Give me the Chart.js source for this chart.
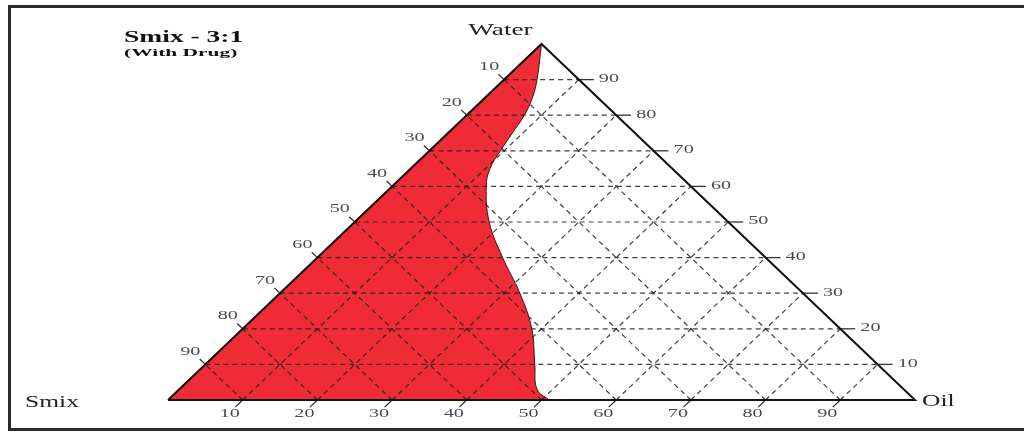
<!DOCTYPE html>
<html>
<head>
<meta charset="utf-8">
<script src="https://cdn.jsdelivr.net/npm/chart.js"></script>
<style>
  html, body { margin: 0; padding: 0; background: #fff; }
  #wrap { width: 1024px; height: 434px; }
</style>
</head>
<body>
<div id="wrap"><canvas id="myChart" width="1024" height="434"></canvas></div>
<script>
// axis ticks (percent) on all three sides
var tickValues = [10, 20, 30, 40, 50, 60, 70, 80, 90];
var vertexNames = ['Smix', 'Oil', 'Water'];
var titleText = 'Smix - 3:1';
var subtitleText = '(With Drug)';

// edge of the red region, read from the Water corner down to the base
var boundaryWater = [100, 90, 85, 80, 75, 70, 65, 60, 50, 40, 30, 20, 10, 3, 0];
var boundaryOil   = [0, 4.4, 6.3, 7.7, 8.6, 9.5, 10.6, 12.6, 18.0, 24.8, 32.1, 38.7, 44.1, 47.9, 51];

// ternary -> x/y (Smix corner at 0,0, Oil at 100,0, Water at 50,100)
function pt(oil, water) {
  return { x: oil + water / 2, y: water };
}

function lineSet(points, style) {
  return Object.assign({
    data: points,
    showLine: true,
    pointRadius: 0,
    fill: false,
    clip: false,
    borderWidth: 1
  }, style);
}

var datasets = [];

// red region
var curve = boundaryWater.map(function(w, i) { return pt(boundaryOil[i], w); });
var corner = pt(0, 0);
datasets.push(lineSet([corner, curve[0]].concat(curve, [curve[curve.length - 1], corner]), {
  fill: 'shape',
  backgroundColor: '#ef2b35',
  borderColor: '#3a1212',
  borderWidth: 1,
  tension: 0.4,
  order: 3
}));

// dashed grid
var gridStyle = { borderColor: 'rgba(30,30,30,0.85)', borderWidth: 1.2, borderDash: [5, 4], order: 2 };
tickValues.forEach(function(t) {
  datasets.push(lineSet([pt(0, t), pt(100 - t, t)], gridStyle));        // water = t
  datasets.push(lineSet([pt(t, 0), pt(t, 100 - t)], gridStyle));        // oil = t
  datasets.push(lineSet([pt(100 - t, 0), pt(0, 100 - t)], gridStyle));  // smix = t
});

// small tick marks outside the triangle
var tickStyle = { borderColor: '#333', borderWidth: 1.3, order: 1 };
tickValues.forEach(function(t) {
  datasets.push(lineSet([pt(t, 0), pt(t, -2)], tickStyle));
  datasets.push(lineSet([pt(0, 100 - t), pt(-1.5, 101.5 - t)], tickStyle));
  datasets.push(lineSet([pt(100 - t, t), pt(102 - t, t)], tickStyle));
});

// triangle outline
datasets.push(lineSet([pt(0, 0), pt(100, 0), pt(0, 100), pt(0, 0)], {
  borderColor: '#111',
  borderWidth: 2,
  order: 0
}));

function stretchText(ctx, text, x, y, font, sx, align, color) {
  ctx.save();
  ctx.font = font;
  ctx.fillStyle = color;
  ctx.textBaseline = 'middle';
  ctx.textAlign = align;
  ctx.translate(x, y);
  ctx.scale(sx, 1);
  ctx.fillText(text, 0, 0);
  ctx.restore();
}

var framePlugin = {
  id: 'frame',
  beforeDraw: function(chart) {
    var ctx = chart.ctx;
    ctx.save();
    ctx.fillStyle = '#fff';
    ctx.fillRect(0, 0, chart.width, chart.height);
    ctx.strokeStyle = '#2a2a2a';
    ctx.lineWidth = 3;
    ctx.beginPath();
    ctx.moveTo(1030, 6.5);
    ctx.lineTo(9.5, 6.5);
    ctx.lineTo(9.5, 429.5);
    ctx.lineTo(1030, 429.5);
    ctx.stroke();
    ctx.restore();
  }
};

var labelPlugin = {
  id: 'ternaryLabels',
  afterDatasetsDraw: function(chart) {
    var ctx = chart.ctx;
    var xs = chart.scales.x, ys = chart.scales.y;
    function px(p) { return { x: xs.getPixelForValue(p.x), y: ys.getPixelForValue(p.y) }; }
    var tickFont = '13px "Liberation Serif", "Times New Roman", serif';
    var tickColor = '#4a4a58';
    tickValues.forEach(function(t) {
      var b = px(pt(t, 0));
      stretchText(ctx, String(t), b.x - 13, b.y + 14, tickFont, 1.55, 'center', tickColor);
      var l = px(pt(0, 100 - t));
      stretchText(ctx, String(t), l.x - 15, l.y - 13, tickFont, 1.55, 'center', tickColor);
      var r = px(pt(100 - t, t));
      stretchText(ctx, String(t), r.x + 20, r.y - 1, tickFont, 1.55, 'left', tickColor);
    });
    var nameFont = '17px "Liberation Serif", "Times New Roman", serif';
    var s = px(pt(0, 0)), o = px(pt(100, 0)), w = px(pt(0, 100));
    stretchText(ctx, vertexNames[0], s.x - 116, s.y + 3, nameFont, 1.5, 'center', '#222');
    stretchText(ctx, vertexNames[1], o.x + 7, o.y + 2, nameFont, 1.5, 'left', '#222');
    stretchText(ctx, vertexNames[2], w.x - 41, w.y - 13, nameFont, 1.6, 'center', '#222');
    stretchText(ctx, titleText, 124, 38, 'bold 16px "Liberation Serif", "Times New Roman", serif', 1.72, 'left', '#111');
    stretchText(ctx, subtitleText, 124, 53, 'bold 11px "Liberation Serif", "Times New Roman", serif', 1.95, 'left', '#111');
  }
};

var chart = new Chart(document.getElementById('myChart'), {
  type: 'scatter',
  data: { datasets: datasets },
  options: {
    responsive: false,
    animation: false,
    layout: { padding: { left: 168, right: 109, top: 44, bottom: 34 } },
    scales: {
      x: { type: 'linear', min: 0, max: 100, display: false },
      y: { type: 'linear', min: 0, max: 100, display: false }
    },
    plugins: { legend: { display: false }, tooltip: { enabled: false } }
  },
  plugins: [framePlugin, labelPlugin]
});
</script>
</body>
</html>
